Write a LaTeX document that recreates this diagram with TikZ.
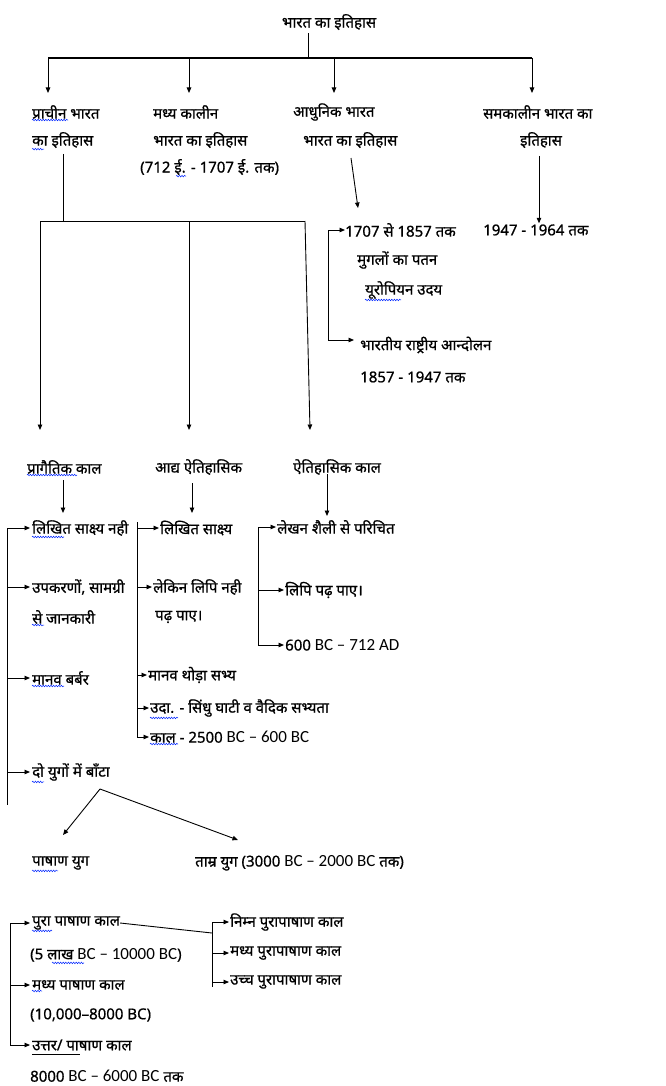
\documentclass[tikz,border=0pt]{standalone}
\usepackage{fontspec}
\newfontfamily\hin[Script=Devanagari, FakeBold=0.8]{Noto Sans}
\newfontfamily\lat{Carlito}
\usetikzlibrary{arrows.meta,decorations.pathmorphing}

\tikzset{
  lbl/.style={inner sep=0pt, anchor=west, font=\hin\fontsize{15}{17}\selectfont},
  link/.style={line width=0.9pt},
  bus/.style={line width=1.6pt},
  arr/.style={line width=0.9pt, -{Triangle[length=5.5pt,width=4.5pt]}},
  spell/.style={blue!85!cyan, line width=0.5pt, decorate,
    decoration={snake, amplitude=0.8pt, segment length=2.6pt}},
}
\newcommand{\bc}[1]{{\lat\fontsize{17}{19}\selectfont #1}}

\begin{document}
\begin{tikzpicture}[x=1pt,y=-1pt]
\fill[white] (0,0) rectangle (665,1086);
\useasboundingbox (0,0) rectangle (665,1086);

% ---------- root and first split ----------
\node[lbl, anchor=center] (root) at (329,22) {भारत का इतिहास};
\coordinate (j0) at (308,58);
\coordinate (b1) at (48,58);  \coordinate (b2) at (189,58);
\coordinate (b3) at (334,58); \coordinate (b4) at (532,58);
\coordinate (b1t) at (48,93);  \coordinate (b2t) at (189,93);
\coordinate (b3t) at (334,93); \coordinate (b4t) at (532,93);
\draw[link] ([yshift=-3pt]j0 |- root.south) -- (j0);
\draw[bus] (b1) -- (b4);
\foreach \i in {1,...,4} \draw[arr] (b\i) -- (b\i t);

\node[lbl] (pra1) at (32,112) {प्राचीन भारत};
\node[lbl] (pra2) at (32,140) {का इतिहास};
\node[lbl] (mad1) at (153,112) {मध्य कालीन};
\node[lbl] (mad2) at (153,140) {भारत का इतिहास};
\node[lbl] (mad3) at (140,167) {(712 ई. - 1707 ई. तक)};
\node[lbl] (adh1) at (293,112) {आधुनिक भारत};
\node[lbl] (adh2) at (303,140) {भारत का इतिहास};
\node[lbl] (sam1) at (483,112) {समकालीन भारत का};
\node[lbl, anchor=center] (sam2) at (541,140) {इतिहास};

% ---------- modern and contemporary ----------
\node[lbl] (m1) at (345,230) {1707 से 1857 तक};
\node[lbl] (m2) at (357,260) {मुगलों का पतन};
\node[lbl] (m3) at (365,290) {यूरोपियन उदय};
\node[lbl] (m4) at (360,345) {भारतीय राष्ट्रीय आन्दोलन};
\node[lbl] (m5) at (360,377) {1857 - 1947 तक};
\node[lbl] (s1) at (483,230) {1947 - 1964 तक};

\coordinate (adhs) at (351,158); \coordinate (adht) at (358,208);
\draw[arr] (adhs) -- (adht);
\coordinate (sams) at (539,156);
\draw[arr] (sams) -- ([yshift=1pt]s1.north -| sams);
\coordinate (mb1) at (328,230); \coordinate (mb2) at (328,340);
\draw[link] (mb1) -- (mb2);
\draw[arr] (mb1) -- (m1.west);
\draw[arr] (mb2) -- ([xshift=-6pt]mb2 -| m4.west);

% ---------- ancient: three periods ----------
\coordinate (ps) at (63,154); \coordinate (pj) at (63,221);
\coordinate (pb1) at (40,221); \coordinate (pb2) at (189,221); \coordinate (pb3) at (305,221);
\coordinate (pt1) at (40,430); \coordinate (pt2) at (189,430); \coordinate (pt3) at (310,430);
\draw[link] (ps) -- (pj);
\draw[link] (pb1) -- (pb3);
\foreach \i in {1,2,3} \draw[arr] (pb\i) -- (pt\i);

\node[lbl] (pre) at (27,467) {प्रागैतिक काल};
\node[lbl] (pro) at (155,467) {आद्य ऐतिहासिक};
\node[lbl] (his) at (293,467) {ऐतिहासिक काल};

% column 1
\node[lbl] (c11) at (32,528) {लिखित साक्ष्य नही};
\node[lbl] (c12) at (32,587) {उपकरणों, सामग्री};
\node[lbl] (c12b) at (32,617) {से जानकारी};
\node[lbl] (c13) at (32,678) {मानव बर्बर};
\node[lbl] (c14) at (32,772) {दो युगों में बाँटा};
\coordinate (c1top) at (7,528); \coordinate (c1bot) at (7,805);
\draw[arr] (63,480) -- (63,513);
\draw[link] (c1top) -- (c1bot);
\foreach \n in {c11,c12,c13,c14} \draw[arr] (c1top |- \n.west) -- ([xshift=-2pt]\n.west);

% column 2
\node[lbl] (c21) at (160,528) {लिखित साक्ष्य};
\node[lbl] (c22) at (153,587) {लेकिन लिपि नही};
\node[lbl] (c22b) at (155,617) {पढ़ पाए।};
\node[lbl] (c23) at (148,675) {मानव थोड़ा सभ्य};
\node[lbl] (c24) at (150,708) {उदा. - सिंधु घाटी व वैदिक सभ्यता};
\node[lbl] (c25) at (150,737) {काल - 2500 \bc{BC – 600 BC}};
\coordinate (c2top) at (137,522); \coordinate (c2bot) at (137,737);
\draw[arr] (192,483) -- (192,513);
\draw[link] (c2top) -- (c2bot);
\foreach \n in {c21,c22,c23,c24,c25} \draw[arr] (c2top |- \n.west) -- ([xshift=-1pt]\n.west);

% column 3
\node[lbl] (c31) at (277,527) {लेखन शैली से परिचित};
\node[lbl] (c32) at (285,590) {लिपि पढ़ पाए।};
\node[lbl] (c33) at (285,645) {600 \bc{BC – 712 AD}};
\coordinate (c3top) at (258,527); \coordinate (c3bot) at (258,645);
\draw[arr] (327,474) -- (327,516);
\draw[link] (c3top) -- (c3bot);
\foreach \n in {c31,c32,c33} \draw[arr] (c3top |- \n.west) -- ([xshift=-1pt]\n.west);

% ---------- two ages ----------
\coordinate (fork) at (100,789);
\node[lbl] (stone) at (32,863) {पाषाण युग};
\node[lbl] (copper) at (195,863) {ताम्र युग (3000 \bc{BC – 2000 BC} तक)};
\draw[arr] (fork) -- (63,835);
\draw[arr] (fork) -- (238,840);

% ---------- stone age subdivisions ----------
\node[lbl] (d1) at (32,923) {पुरा पाषाण काल};
\node[lbl] (d1b) at (30,955) {(5 लाख \bc{BC – 10000 BC})};
\node[lbl] (d2) at (32,985) {मध्य पाषाण काल};
\node[lbl] (d2b) at (30,1015) {(10,000–8000 BC)};
\node[lbl] (d3) at (32,1045) {उत्तर/ पाषाण काल};
\node[lbl] (d3b) at (30,1076) {8000 \bc{BC – 6000 BC} तक};
\coordinate (dtop) at (10,923); \coordinate (dbot) at (10,1045);
\draw[link] (dtop) -- (dbot);
\foreach \n in {d1,d2,d3} \draw[arr] (dtop |- \n.west) -- ([xshift=-2pt]\n.west);
\draw[link] ([yshift=-4pt]d3.south west) -- ++(48,0);

\node[lbl] (e1) at (230,922) {निम्न पुरापाषाण काल};
\node[lbl] (e2) at (230,953) {मध्य पुरापाषाण काल};
\node[lbl] (e3) at (230,982) {उच्च पुरापाषाण काल};
\coordinate (etop) at (212,922); \coordinate (ebot) at (212,987);
\draw[link] (d1.east) -- (212,933);
\draw[link] (etop) -- (ebot);
\foreach \n in {e1,e2,e3} \draw[arr] (etop |- \n.west) -- ([xshift=-1pt]\n.west);

% ---------- spell-check squiggles ----------
\draw[spell] ([yshift=-1pt]pra1.south west) -- ++(36,0);
\draw[spell] ([yshift=-1pt]pra2.south west) -- ++(12,0);
\draw[spell] ([yshift=-1pt]mad3.south west) ++(36,0) -- ++(10,0);
\draw[spell] ([yshift=-1pt]m3.south west) -- ++(36,0);
\draw[spell] ([yshift=-1pt]pre.south west) -- ++(50,0);
\draw[spell] ([yshift=-1pt]c11.south west) -- ++(32,0);
\draw[spell] ([yshift=-1pt]c12b.south west) -- ++(12,0);
\draw[spell] ([yshift=-1pt]c13.south west) -- ++(32,0);
\draw[spell] ([yshift=-1pt]c14.south west) -- ++(12,0);
\draw[spell] ([yshift=-1pt]c24.south west) -- ++(28,0);
\draw[spell] ([yshift=-1pt]c25.south west) -- ++(28,0);
\draw[spell] ([yshift=-1pt]stone.south west) -- ++(26,0);
\draw[spell] ([yshift=-1pt]d1.south west) -- ++(20,0);
\draw[spell] ([yshift=-1pt]d1b.south west) ++(22,0) -- ++(32,0);
\draw[spell] ([yshift=-1pt]d2.south west) -- ++(10,0);
\end{tikzpicture}
\end{document}
